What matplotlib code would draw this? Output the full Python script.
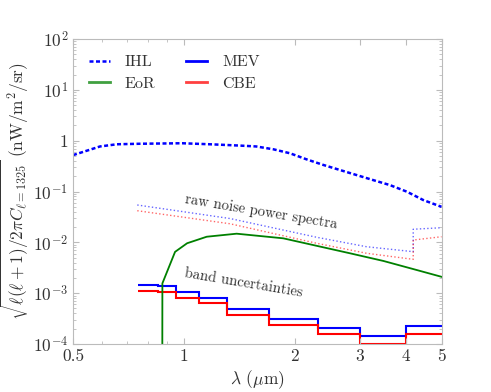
import math

import matplotlib

matplotlib.use("Agg")

import matplotlib.pyplot as plt
from matplotlib.lines import Line2D
from matplotlib.ticker import FixedLocator, FuncFormatter, LogLocator, NullFormatter

# intra-halo light model
ihl_wl = [0.5, 0.532, 0.592, 0.658, 0.76, 0.99, 1.2, 1.42, 1.57, 1.75, 1.94, 2.15,
          2.39, 2.65, 2.94, 3.26, 3.62, 4.03, 4.46, 5.0]
ihl_val = [0.52, 0.60, 0.77, 0.85, 0.87, 0.89, 0.845, 0.80, 0.77, 0.676, 0.565, 0.43,
           0.333, 0.265, 0.211, 0.168, 0.134, 0.099, 0.068, 0.050]

# epoch of reionization model
eor_wl = [0.873, 0.874, 0.946, 1.02, 1.153, 1.39, 1.86, 2.82, 3.48, 4.28, 5.0]
eor_val = [1e-6, 1.56e-3, 6.5e-3, 9.6e-3, 1.29e-2, 1.48e-2, 1.2e-2, 6.1e-3, 4.3e-3, 2.86e-3, 2.1e-3]

# raw noise power spectra (MEV / CBE)
raw_wl = [0.747, 1.334, 2.29, 3.13, 4.19, 4.19, 5.0]
raw_mev = [0.0543, 0.0294, 0.0126, 0.0082, 0.00655, 0.0181, 0.0194]
raw_cbe = [0.0419, 0.0232, 0.0096, 0.0061, 0.00463, 0.0111, 0.0129]

# band uncertainties
band_edges = [0.75, 0.85, 0.95, 1.1, 1.31, 1.7, 2.31, 3.0, 4.0, 5.0]
band_mev = [1.45e-3, 1.38e-3, 1.04e-3, 7.9e-4, 4.9e-4, 3.06e-4, 2.1e-4, 1.44e-4, 2.29e-4]
band_cbe = [1.09e-3, 1.04e-3, 7.9e-4, 6.3e-4, 3.8e-4, 2.33e-4, 1.6e-4, 1.02e-4, 1.6e-4]

x_ticks = [0.5, 1, 2, 3, 4, 5]
x_tick_labels = ["0.5", "1", "2", "3", "4", "5"]
x_minor = [0.6, 0.7, 0.8, 0.9]

GRAY = "#bbbbbb"
TEXT = "#333333"


def y_label_fmt(value, _):
    exp = int(round(math.log10(value)))
    if exp == 0:
        return "1"
    return rf"$10^{{{exp}}}$"


def x_label_fmt(value, _):
    for tick, label in zip(x_ticks, x_tick_labels):
        if abs(tick - value) < 1e-9:
            return label
    return ""


def main():
    plt.rcParams["font.family"] = "serif"
    plt.rcParams["font.serif"] = ["cmr10", "DejaVu Serif"]
    plt.rcParams["mathtext.fontset"] = "cm"
    plt.rcParams["axes.unicode_minus"] = False

    fig = plt.figure(figsize=(4.91, 3.92), dpi=100)
    ax = fig.add_axes([0.1487, 0.1224, 0.7505, 0.7781])

    ax.plot(ihl_wl, ihl_val, color="b", lw=1.8, ls=(0, (1.6, 1.0)))
    ax.plot(eor_wl, eor_val, color="g", lw=1.3)
    ax.plot(raw_wl, raw_mev, color="b", lw=1.0, ls=":", alpha=0.6)
    ax.plot(raw_wl, raw_cbe, color="r", lw=1.0, ls=":", alpha=0.6)
    ax.stairs(band_mev, band_edges, baseline=None, color="b", lw=1.5)
    ax.stairs(band_cbe, band_edges, baseline=None, color="r", lw=1.5)

    ax.set_xscale("log")
    ax.set_yscale("log")
    ax.set_xlim(0.5, 5)
    ax.set_ylim(1e-4, 1e2)

    ax.xaxis.set_major_locator(FixedLocator(x_ticks))
    ax.xaxis.set_major_formatter(FuncFormatter(x_label_fmt))
    ax.xaxis.set_minor_locator(FixedLocator(x_minor))
    ax.xaxis.set_minor_formatter(NullFormatter())
    ax.yaxis.set_major_locator(FixedLocator([1e-4, 1e-3, 1e-2, 1e-1, 1, 1e1, 1e2]))
    ax.yaxis.set_major_formatter(FuncFormatter(y_label_fmt))
    ax.yaxis.set_minor_locator(LogLocator(base=10, subs=range(2, 10), numticks=10))
    ax.yaxis.set_minor_formatter(NullFormatter())

    ax.tick_params(which="both", direction="in", top=True, right=True, color=GRAY,
                   labelcolor=TEXT, labelsize=12.5)
    ax.tick_params(which="major", length=4, width=0.8)
    ax.tick_params(which="minor", length=2.2, width=0.6)
    for spine in ax.spines.values():
        spine.set_color(GRAY)

    ax.set_xlabel(r"$\lambda$ ($\mu$m)", fontsize=12.5, color=TEXT, labelpad=3)
    ax.set_ylabel(r"$\sqrt{\ell(\ell+1)/2\pi C_{\ell=1325}}\ (\mathrm{nW/m^2/sr})$",
                  fontsize=12.5, color=TEXT, labelpad=1)

    ax.text(1.616, 0.039, "raw noise power spectra", rotation=-9.5, fontsize=10.6,
            color=TEXT, ha="center", va="center", rotation_mode="anchor")
    ax.text(1.45, 1.56e-3, "band uncertainties", rotation=-9.5, fontsize=10.6,
            color=TEXT, ha="center", va="center", rotation_mode="anchor")

    handles = [
        Line2D([], [], color="b", lw=1.8, ls=(0, (1.6, 1.0))),
        Line2D([], [], color="g", lw=2, alpha=0.75),
        Line2D([], [], color="b", lw=2),
        Line2D([], [], color="r", lw=2, alpha=0.75),
    ]
    ax.legend(handles, ["IHL", "EoR", "MEV", "CBE"], ncol=2, frameon=False, loc="upper left",
              fontsize=11.5, labelcolor=TEXT, handlelength=1.3, handletextpad=0.95,
              columnspacing=1.9, labelspacing=0.45, borderaxespad=0.6)

    fig.savefig("out.png", dpi=100)
    plt.close(fig)


if __name__ == "__main__":
    main()
